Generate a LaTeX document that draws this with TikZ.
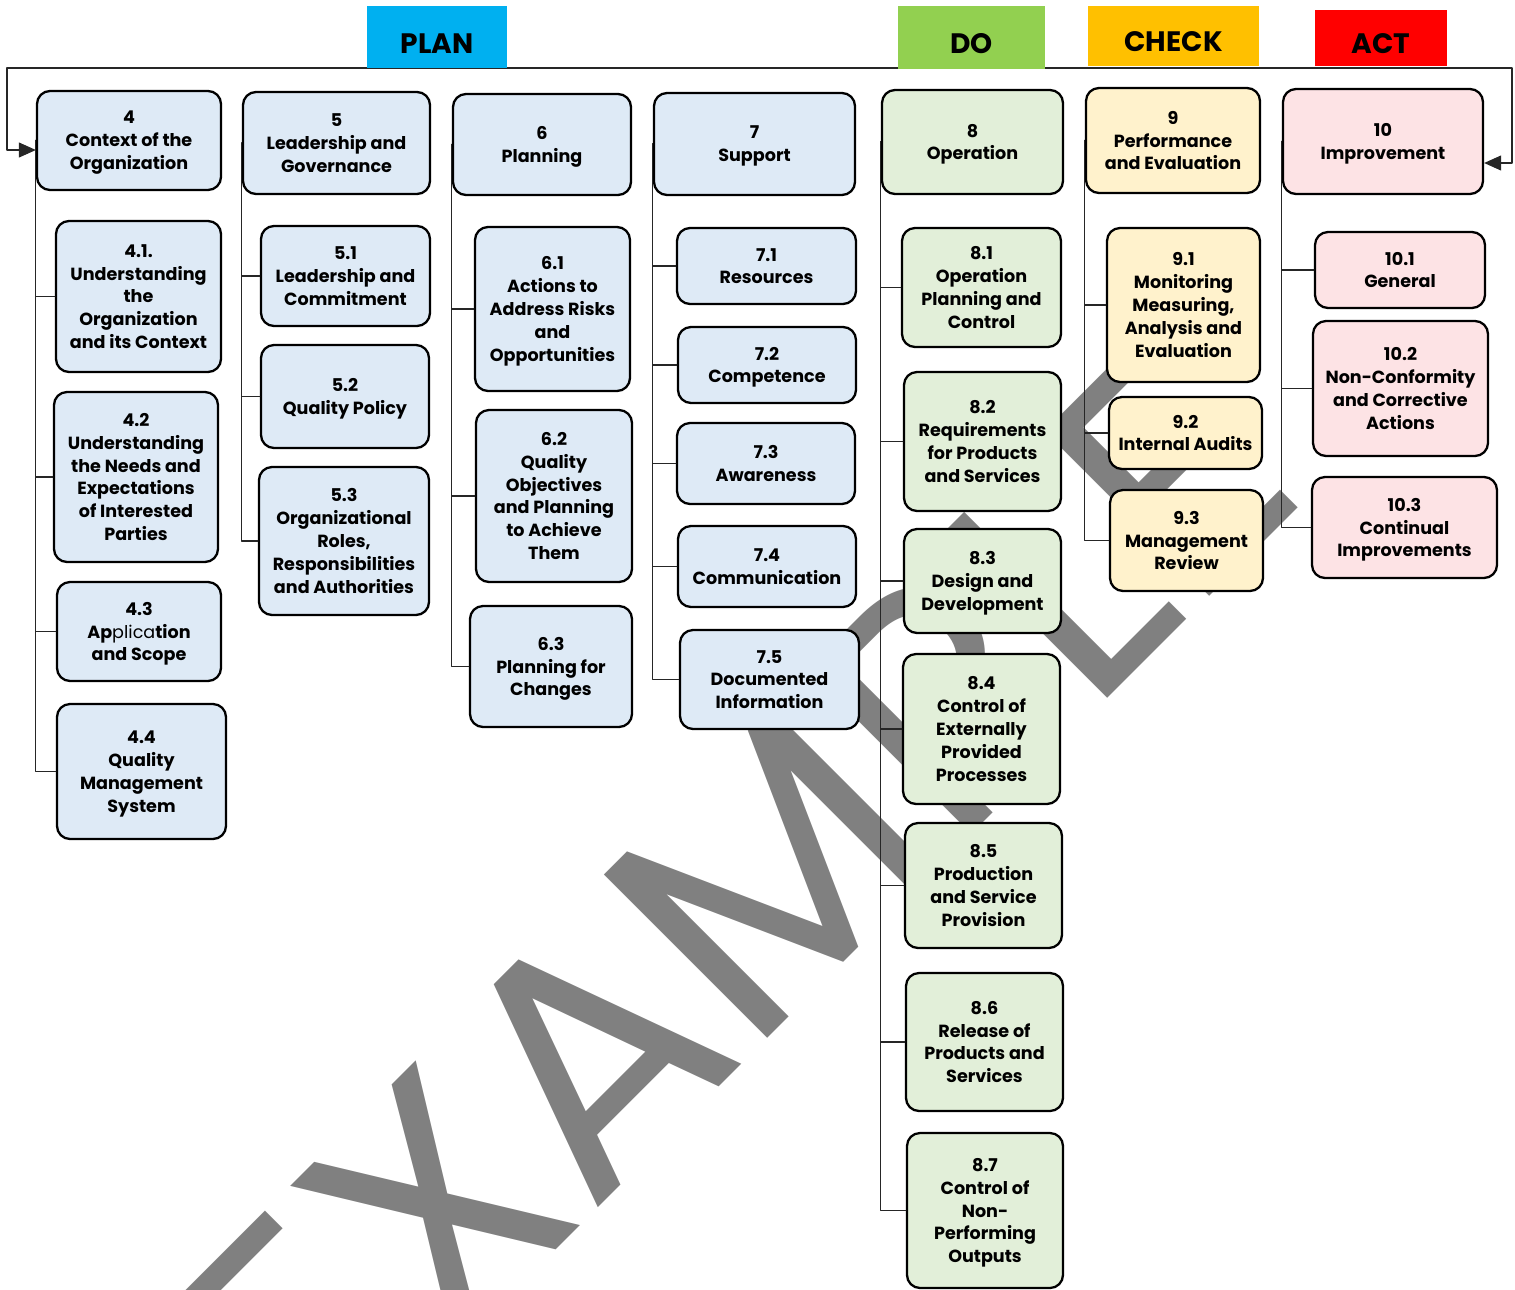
\documentclass[tikz,border=0pt]{standalone}
\usepackage{fontspec}
\setmainfont{Poppins}
\newfontfamily\markfont{Poppins}
\usetikzlibrary{arrows.meta}
\definecolor{planblue}{HTML}{00B0F0}
\definecolor{dogreen}{HTML}{92D050}
\definecolor{checkgold}{HTML}{FFC000}
\definecolor{actred}{HTML}{FF0000}
\definecolor{planfill}{HTML}{DEEAF6}
\definecolor{dofill}{HTML}{E2EFD9}
\definecolor{checkfill}{HTML}{FFF2CC}
\definecolor{actfill}{HTML}{FDE3E5}
\definecolor{markgray}{HTML}{808080}
\tikzset{
  clause/.style={draw=black, line width=1.3pt, rounded corners=0.26cm, align=center,
    inner sep=0pt, text depth=-2.4pt, font=\fontsize{10}{13}\selectfont\bfseries},
  planbox/.style={clause, fill=planfill},
  dobox/.style={clause, fill=dofill},
  checkbox/.style={clause, fill=checkfill},
  actbox/.style={clause, fill=actfill},
  phase/.style={inner sep=0pt, text height=0.64cm, font=\fontsize{16}{16}\selectfont\bfseries},
  trunk/.style={draw=black!85, line width=0.6pt},
  tip/.tip={Triangle[length=0.34cm,width=0.3cm]},
  wmark/.style={anchor=base, rotate=45, inner sep=0pt, text=markgray,
    font=\markfont\fontsize{190}{190}\selectfont}
}
% box from its corners: style, x1, y1, x2, y2, name
\newcommand{\boxnode}[6]{\node[#1, minimum width={(#4-#2)*0.02cm}, minimum height={(#5-#3)*0.02cm}] (#6) at ({(#2+#4)/2},{(#3+#5)/2})}
\begin{document}
\begin{tikzpicture}[x=0.02cm, y=-0.02cm, line join=round, line cap=round]
\useasboundingbox (0,0) rectangle (1515,1289);
\clip (0,0) rectangle (1515,1289);
\node[wmark] (stamp) at (818,988) {EXAMPLE};
% PLAN
\boxnode{planbox}{37}{91}{221}{190}{c4} {4\\Context of the\\Organization};
\boxnode{planbox}{56}{221}{221}{372}{c41} {4.1.\\Understanding\\the\\Organization\\and its Context};
\boxnode{planbox}{54}{392}{218}{562}{c42} {4.2\\Understanding\\the Needs and\\Expectations\\of Interested\\Parties};
\boxnode{planbox}{57}{582}{221}{681}{c43} {4.3\\Ap\textmd{plica}tion\\and Scope};
\boxnode{planbox}{57}{704}{226}{839}{c44} {4.4\\Quality\\Management\\System};
\boxnode{planbox}{243}{92}{430}{194}{c5} {5\\Leadership and\\Governance};
\boxnode{planbox}{261}{226}{430}{326}{c51} {5.1\\Leadership and\\Commitment};
\boxnode{planbox}{261}{345}{429}{448}{c52} {5.2\\Quality Policy};
\boxnode{planbox}{259}{467}{429}{615}{c53} {5.3\\Organizational\\Roles,\\Responsibilities\\and Authorities};
\boxnode{planbox}{453}{94}{631}{195}{c6} {6\\Planning};
\boxnode{planbox}{475}{227}{630}{391}{c61} {6.1\\Actions to\\Address Risks\\and\\Opportunities};
\boxnode{planbox}{476}{410}{632}{582}{c62} {6.2\\Quality\\Objectives\\and Planning\\to Achieve\\Them};
\boxnode{planbox}{470}{606}{632}{727}{c63} {6.3\\Planning for\\Changes};
\boxnode{planbox}{654}{93}{855}{195}{c7} {7\\Support};
\boxnode{planbox}{677}{228}{856}{304}{c71} {7.1\\Resources};
\boxnode{planbox}{678}{327}{856}{403}{c72} {7.2\\Competence};
\boxnode{planbox}{677}{423}{855}{504}{c73} {7.3\\Awareness};
\boxnode{planbox}{678}{526}{856}{607}{c74} {7.4\\Communication};
\boxnode{planbox}{680}{630}{859}{729}{c75} {7.5\\Documented\\Information};
% DO
\boxnode{dobox}{882}{90}{1063}{194}{c8} {8\\Operation};
\boxnode{dobox}{902}{228}{1061}{347}{c81} {8.1\\Operation\\Planning and\\Control};
\boxnode{dobox}{904}{372}{1061}{511}{c82} {8.2\\Requirements\\for Products\\and Services};
\boxnode{dobox}{904}{529}{1061}{633}{c83} {8.3\\Design and\\Development};
\boxnode{dobox}{903}{654}{1060}{804}{c84} {8.4\\Control of\\Externally\\Provided\\Processes};
\boxnode{dobox}{905}{823}{1062}{948}{c85} {8.5\\Production\\and Service\\Provision};
\boxnode{dobox}{906}{973}{1063}{1111}{c86} {8.6\\Release of\\Products and\\Services};
\boxnode{dobox}{907}{1133}{1063}{1288}{c87} {8.7\\Control of\\Non-\\Performing\\Outputs};
% CHECK
\boxnode{checkbox}{1086}{88}{1260}{193}{c9} {9\\Performance\\and Evaluation};
\boxnode{checkbox}{1107}{228}{1260}{382}{c91} {9.1\\Monitoring\\Measuring,\\Analysis and\\Evaluation};
\boxnode{checkbox}{1109}{397}{1262}{469}{c92} {9.2\\Internal Audits};
\boxnode{checkbox}{1110}{490}{1263}{591}{c93} {9.3\\Management\\Review};
% ACT
\boxnode{actbox}{1283}{89}{1483}{194}{c10} {10\\Improvement};
\boxnode{actbox}{1315}{232}{1485}{308}{c101} {10.1\\General};
\boxnode{actbox}{1313}{321}{1488}{456}{c102} {10.2\\Non-Conformity\\and Corrective\\Actions};
\boxnode{actbox}{1312}{477}{1497}{578}{c103} {10.3\\Continual\\Improvements};
% trunks
\foreach \k in {c41,c42,c43,c44} \draw[trunk] (c4.west) |- (\k.west);
\foreach \k in {c51,c52,c53} \draw[trunk] (c5.west) |- (\k.west);
\foreach \k in {c61,c62,c63} \draw[trunk] (c6.west) |- (\k.west);
\foreach \k in {c71,c72,c73,c74,c75} \draw[trunk] (c7.west) |- (\k.west);
\foreach \k in {c81,c82,c83,c84,c85,c86,c87} \draw[trunk] (c8.west) |- (\k.west);
\foreach \k in {c91,c92,c93} \draw[trunk] (c9.west) |- (\k.west);
\foreach \k in {c101,c102,c103} \draw[trunk] (c10.west) |- (\k.west);
% the cycle back from ACT to PLAN
\coordinate (loopL) at (7,68);
\coordinate (loopR) at (1512,68);
\draw[trunk, tip-tip] ([yshift=-0.19cm]c4.west) -| (loopL) -- (loopR) |- ([yshift=-0.43cm]c10.east);
% phase headers
\boxnode{phase, fill=planblue}{367}{6}{507}{68}{plan} {PLAN};
\boxnode{phase, fill=dogreen}{898}{6}{1045}{69}{do} {DO};
\boxnode{phase, fill=checkgold}{1088}{6}{1259}{66}{check} {CHECK};
\boxnode{phase, fill=actred}{1315}{10}{1447}{66}{act} {ACT};
\end{tikzpicture}
\end{document}
